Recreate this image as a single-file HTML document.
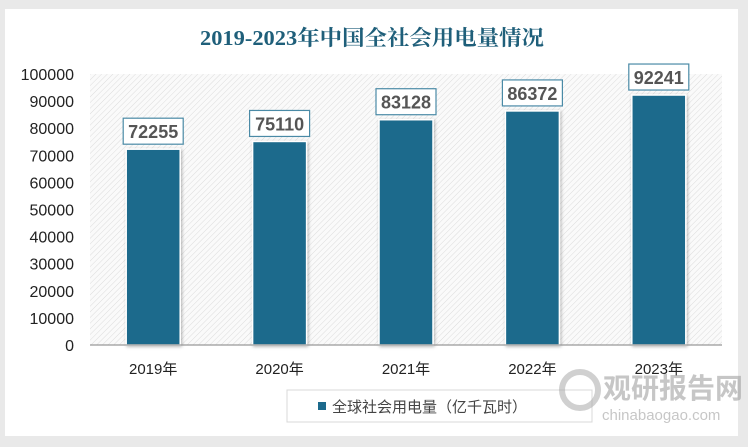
<!DOCTYPE html>
<html><head><meta charset="utf-8"><style>
body{margin:0;width:748px;height:442px;background:#e9e9e9;overflow:hidden;font-family:"Liberation Sans","Noto Sans CJK SC",sans-serif}
</style></head><body>
<svg width="748" height="442" xmlns="http://www.w3.org/2000/svg">
<defs>
<pattern id="hatch" width="4" height="4" patternUnits="userSpaceOnUse" patternTransform="rotate(45)">
<rect width="4" height="4" fill="#fafafa"/><line x1="0" y1="0" x2="0" y2="4" stroke="#dcdcdc" stroke-width="1"/>
</pattern>
<filter id="sh" x="-20%" y="-20%" width="140%" height="140%"><feDropShadow dx="1" dy="1" stdDeviation="1.5" flood-color="#000" flood-opacity="0.3"/></filter>
</defs>
<rect x="5" y="9" width="733" height="427" fill="#fff"/>
<text x="372" y="45" text-anchor="middle" font-family="'Liberation Serif','Noto Serif CJK SC',serif" font-size="21" font-weight="bold" fill="#1f5f7a" textLength="344" lengthAdjust="spacingAndGlyphs">2019-2023年中国全社会用电量情况</text>
<rect x="90" y="74" width="632" height="271" fill="url(#hatch)"/>
<g id="yticks"></g>
<g id="bars"></g>
<line x1="90" y1="345" x2="722" y2="345" stroke="#999" stroke-width="1.2"/>
<g id="xlabels"></g>
<rect x="287" y="390" width="305" height="32" fill="#fff" stroke="#d8d8d8"/>
<rect x="318" y="402" width="8" height="8" fill="#1c6a8c"/>
<text x="332" y="412" font-size="15" fill="#444">全球社会用电量（亿千瓦时）</text>
<g opacity="0.55">
<circle cx="580" cy="390" r="18" fill="none" stroke="#aaa" stroke-width="6"/>
<text x="603" y="398" font-size="28" font-weight="bold" fill="#999">观研报告网</text>
<text x="602" y="420" font-size="15" fill="#999">chinabaogao.com</text>
</g>
</svg>
<script>
const categories=["2019年","2020年","2021年","2022年","2023年"];
const values=[72255,75110,83128,86372,92241];
const yTicks=[0,10000,20000,30000,40000,50000,60000,70000,80000,90000,100000];
const NS="http://www.w3.org/2000/svg";
const x0=90,pw=632,y0=345,ph=271,ymax=100000;
const yS=v=>y0-v/ymax*ph;
const band=pw/categories.length;
function mk(t,a,txt){const e=document.createElementNS(NS,t);for(const k in a)e.setAttribute(k,a[k]);if(txt!==undefined)e.textContent=txt;return e;}
const yt=document.getElementById('yticks');
yTicks.forEach(v=>{const t=mk('text',{x:74,y:yS(v)+6,'text-anchor':'end','font-size':16,fill:'#222'},String(v));


yt.appendChild(t);});
const bg=document.getElementById('bars'),xl=document.getElementById('xlabels');
categories.forEach((c,i)=>{const cx=x0+band*(i+0.5),y=yS(values[i]);
const r=mk('rect',{x:cx-27,y:y,width:54,height:y0-y,fill:'#1c6a8c',stroke:'#fff','stroke-width':1.5,filter:'url(#sh)'});


bg.appendChild(r);
const b=mk('rect',{x:cx-30,y:y-31,width:60,height:26,fill:'#fff',stroke:'#4a8aa6','stroke-width':1.2});


bg.appendChild(b);
const t=mk('text',{x:cx,y:y-11,'text-anchor':'middle','font-size':18,'font-weight':'bold',fill:'#555'},String(values[i]));


bg.appendChild(t);
const l=mk('text',{x:cx,y:374,'text-anchor':'middle','font-size':15,fill:'#222'},c);


xl.appendChild(l);});
</script>
</body></html>
